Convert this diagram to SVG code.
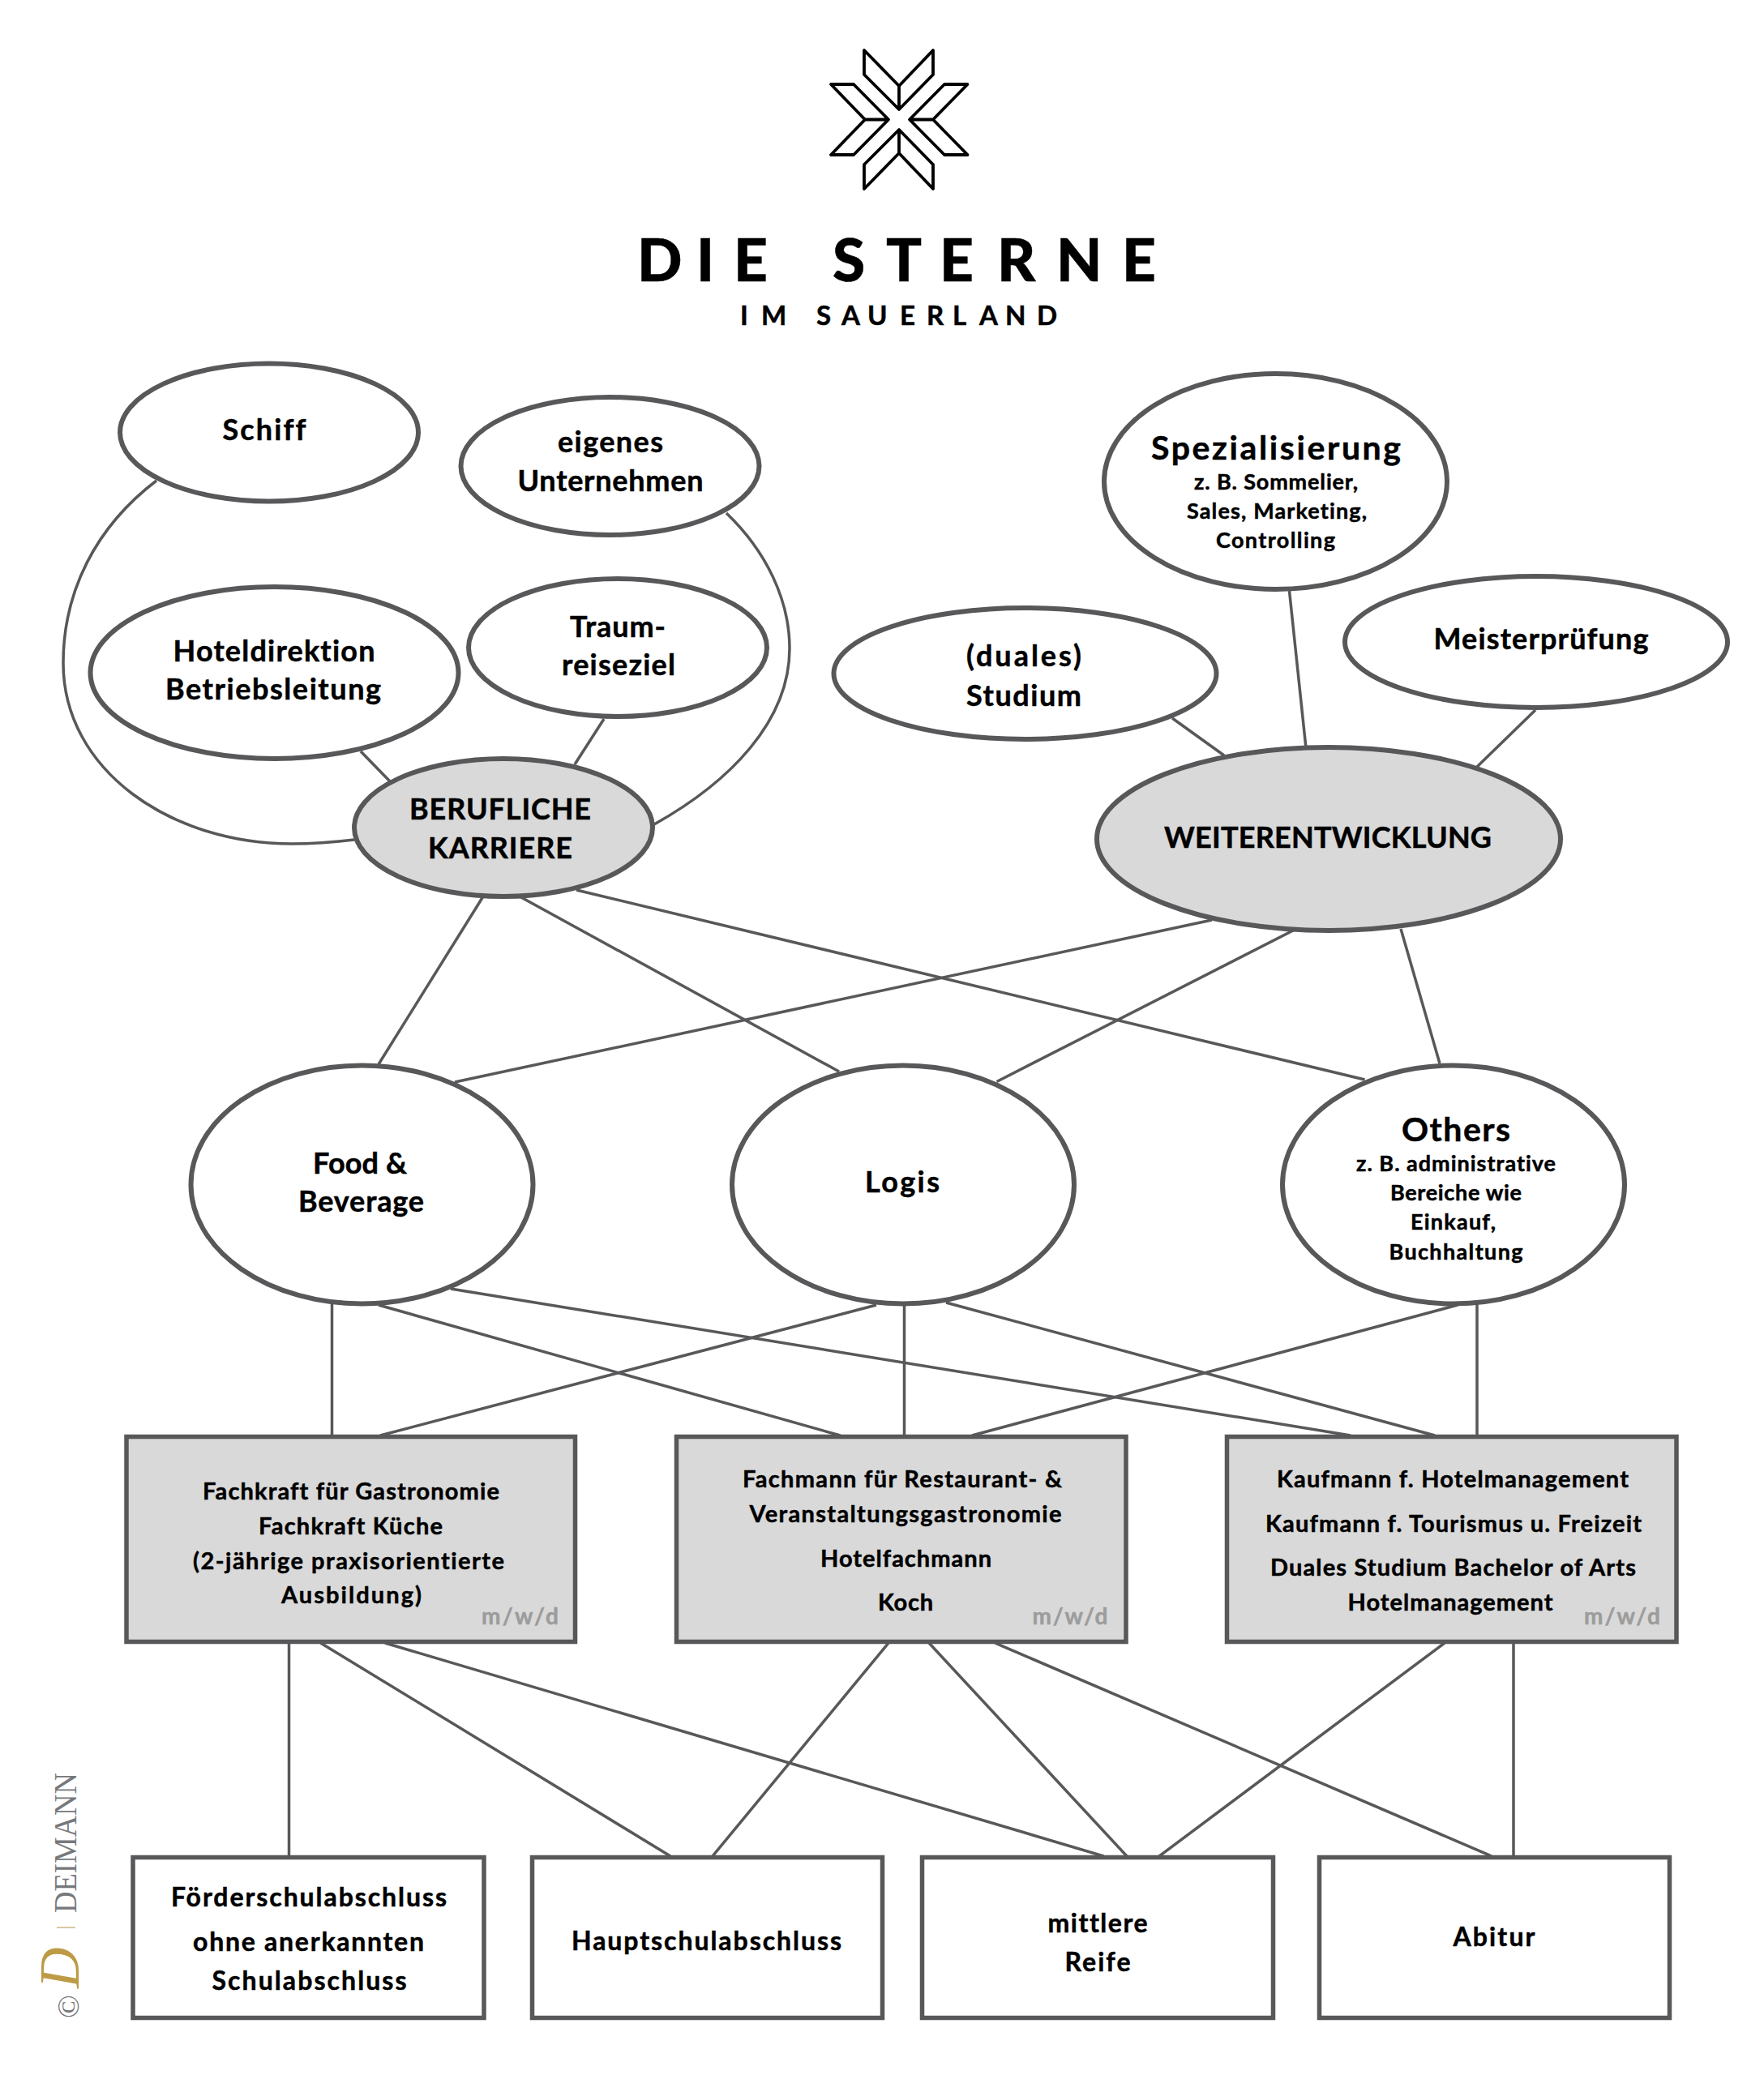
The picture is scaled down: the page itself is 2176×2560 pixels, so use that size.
<svg xmlns="http://www.w3.org/2000/svg" width="2176" height="2560" viewBox="0 0 2176 2560">
<style>
text{font-family:"Lato","Liberation Sans",sans-serif;font-weight:700;fill:#000;stroke:#000;stroke-width:.5;text-anchor:middle;font-variant-ligatures:none}
.n{font-size:36px}.big{font-size:41px}.sub{font-size:27px}.g{font-size:29px}.b{font-size:32px}
text.mwd{font-size:28px;fill:#9c9c9c;stroke:#9c9c9c}
.e{fill:#fff;stroke:#58585a;stroke-width:6}
.eg{fill:#d9d9d9;stroke:#58585a;stroke-width:6}
.r{fill:#fff;stroke:#58585a;stroke-width:5.5}
.rg{fill:#d9d9d9;stroke:#58585a;stroke-width:5.5}
#connectors path,#connectors line{fill:none;stroke:#58585a;stroke-width:3.5}
#logo path{fill:none;stroke:#000;stroke-width:3.8;stroke-linejoin:round}
.t1{font-size:73px;font-weight:900;text-anchor:start}
.t2{font-size:33px;text-anchor:start}
text.sig{font-family:"Liberation Serif",serif;font-weight:400;fill:#77787b;stroke:none;text-anchor:start}
</style>
<rect width="2176" height="2560" fill="#fff"/>
<g id="logo">
<path d="M1066,62L1109,106L1151,62V92L1109,135L1066,92ZM1109,106V135"/>
<path d="M1109,160L1066,203V233L1109,189L1151,233V203ZM1109,160V189"/>
<path d="M1025,104H1053L1096,147.500L1053,191H1025L1067,147.500ZM1067,147.500H1096"/>
<path d="M1193.500,104H1165L1122,147.500L1165,191H1193.500L1151,147.500ZM1151,147.500H1122"/>
</g>
<g id="logo-title">
<text class="t1" y="347" x="786 859 905">DIE</text>
<text class="t1" y="347" x="1027 1093 1159 1230 1303 1384">STERNE</text>
<text class="t2" y="401" x="913 939">IM</text>
<text class="t2" y="401" x="1007 1038 1070 1110 1143 1175 1208 1240 1279">SAUERLAND</text>
</g>
<g id="connectors">
<path d="M193,593C118,650 78,730 78,818C78,950 210,1041 360,1041C388,1041 412,1039 437,1036"/>
<path d="M896,633C945,680 974,740 974,800C974,890 900,965 807,1017"/>
<line x1="445" y1="927" x2="481" y2="964"/>
<line x1="745" y1="887" x2="709" y2="943"/>
<line x1="1446" y1="886" x2="1510" y2="932"/>
<line x1="1590.500" y1="729" x2="1611" y2="923"/>
<line x1="1894" y1="876" x2="1822" y2="946"/>
<line x1="596" y1="1106" x2="467" y2="1313"/>
<line x1="641" y1="1106" x2="1035" y2="1322"/>
<line x1="711" y1="1098" x2="1683.500" y2="1332"/>
<line x1="1495" y1="1135" x2="561" y2="1335"/>
<line x1="1597" y1="1147" x2="1229.500" y2="1334.500"/>
<line x1="1728" y1="1146" x2="1776" y2="1312"/>
<line x1="409.500" y1="1608" x2="409.500" y2="1771"/>
<line x1="467" y1="1610" x2="1036.500" y2="1771"/>
<line x1="556" y1="1590" x2="1666" y2="1771"/>
<line x1="1081" y1="1610" x2="469" y2="1771"/>
<line x1="1115.500" y1="1608" x2="1115.500" y2="1771"/>
<line x1="1167" y1="1607" x2="1770" y2="1771"/>
<line x1="1798" y1="1610" x2="1199" y2="1771"/>
<line x1="1822" y1="1608" x2="1822" y2="1771"/>
<line x1="356.500" y1="2027" x2="356.500" y2="2290"/>
<line x1="395.500" y1="2027" x2="827" y2="2290"/>
<line x1="475" y1="2027" x2="1361.500" y2="2290"/>
<line x1="1096" y1="2027" x2="879" y2="2290"/>
<line x1="1146" y1="2027" x2="1390" y2="2290"/>
<line x1="1227.500" y1="2027" x2="1840" y2="2290"/>
<line x1="1782" y1="2027" x2="1430" y2="2290"/>
<line x1="1867" y1="2027" x2="1867" y2="2290"/>
</g>
<g id="schiff"><ellipse class="e" cx="332" cy="533.500" rx="184" ry="85"/><text class="n" x="326" y="543" textLength="103">Schiff</text></g>
<g id="eigenes"><ellipse class="e" cx="752.500" cy="575" rx="184" ry="85"/><text class="n" x="753" y="558" textLength="130">eigenes</text><text class="n" x="753" y="606" textLength="229">Unternehmen</text></g>
<g id="hoteldirektion"><ellipse class="e" cx="338.500" cy="830" rx="227" ry="106"/><text class="n" x="338" y="816" textLength="249">Hoteldirektion</text><text class="n" x="337" y="863" textLength="266">Betriebsleitung</text></g>
<g id="traum"><ellipse class="e" cx="762" cy="799" rx="184" ry="85"/><text class="n" x="762" y="786" textLength="118">Traum-</text><text class="n" x="763" y="833" textLength="140">reiseziel</text></g>
<g id="berufliche"><ellipse class="eg" cx="621" cy="1021" rx="184" ry="85"/><text class="n" x="617" y="1011" textLength="224">BERUFLICHE</text><text class="n" x="617" y="1059" textLength="178">KARRIERE</text></g>
<g id="spezialisierung"><ellipse class="e" cx="1573.500" cy="594" rx="211.500" ry="133"/><text class="big" x="1574" y="567" textLength="308">Spezialisierung</text><text class="sub" x="1574" y="604" textLength="202">z. B. Sommelier,</text><text class="sub" x="1575" y="640" textLength="222">Sales, Marketing,</text><text class="sub" x="1573.500" y="676" textLength="147">Controlling</text></g>
<g id="duales"><ellipse class="e" cx="1264.500" cy="831" rx="236" ry="81"/><text class="n" x="1263" y="822" textLength="142">(duales)</text><text class="n" x="1263" y="871" textLength="142">Studium</text></g>
<g id="meisterpruefung"><ellipse class="e" cx="1895" cy="792" rx="236" ry="81"/><text class="n" x="1901" y="801" textLength="265">Meisterprüfung</text></g>
<g id="weiterentwicklung"><ellipse class="eg" cx="1639" cy="1035" rx="286" ry="113"/><text class="n" x="1638" y="1046" textLength="404">WEITERENTWICKLUNG</text></g>
<g id="food"><ellipse class="e" cx="446.500" cy="1461.500" rx="211" ry="147"/><text class="n" x="444" y="1448" textLength="116">Food &amp;</text><text class="n" x="445.500" y="1495" textLength="155">Beverage</text></g>
<g id="logis"><ellipse class="e" cx="1114" cy="1461.500" rx="211" ry="147"/><text class="n" x="1113" y="1471" textLength="92">Logis</text></g>
<g id="others"><ellipse class="e" cx="1793" cy="1461.500" rx="211" ry="147"/><text class="big" x="1796" y="1408" textLength="134">Others</text><text class="sub" x="1796" y="1445" textLength="246">z. B. administrative</text><text class="sub" x="1796" y="1481" textLength="162">Bereiche wie</text><text class="sub" x="1792.500" y="1517" textLength="105">Einkauf,</text><text class="sub" x="1796" y="1554" textLength="165">Buchhaltung</text></g>
<g id="ausbildung-1"><rect class="rg" x="156" y="1772.500" width="553.500" height="253"/><text class="g" x="433" y="1850" textLength="366">Fachkraft für Gastronomie</text><text class="g" x="432.500" y="1892.500" textLength="227">Fachkraft Küche</text><text class="g" x="430" y="1936" textLength="384">(2-jährige praxisorientierte</text><text class="g" x="433.500" y="1978" textLength="173">Ausbildung)</text><text class="mwd" x="641.500" y="2004" textLength="95">m/w/d</text></g>
<g id="ausbildung-2"><rect class="rg" x="834.500" y="1772.500" width="554.500" height="253"/><text class="g" x="1113" y="1835" textLength="394">Fachmann für Restaurant- &amp;</text><text class="g" x="1117" y="1877.500" textLength="385">Veranstaltungsgastronomie</text><text class="g" x="1117.500" y="1932.500" textLength="211">Hotelfachmann</text><text class="g" x="1117" y="1987" textLength="68">Koch</text><text class="mwd" x="1320" y="2004" textLength="93">m/w/d</text></g>
<g id="ausbildung-3"><rect class="rg" x="1513.500" y="1772.500" width="554.500" height="253"/><text class="g" x="1792" y="1835" textLength="434">Kaufmann f. Hotelmanagement</text><text class="g" x="1793" y="1890" textLength="464">Kaufmann f. Tourismus u. Freizeit</text><text class="g" x="1792.500" y="1944" textLength="451">Duales Studium Bachelor of Arts</text><text class="g" x="1789" y="1987" textLength="253">Hotelmanagement</text><text class="mwd" x="2001" y="2004" textLength="94">m/w/d</text></g>
<g id="foerderschule"><rect class="r" x="164" y="2291.500" width="433" height="198"/><text class="b" x="381" y="2351.500" textLength="340">Förderschulabschluss</text><text class="b" x="380.500" y="2406.500" textLength="285">ohne anerkannten</text><text class="b" x="381.500" y="2455" textLength="240">Schulabschluss</text></g>
<g id="hauptschule"><rect class="r" x="656.500" y="2291.500" width="432" height="198"/><text class="b" x="871.500" y="2406" textLength="333">Hauptschulabschluss</text></g>
<g id="mittlere-reife"><rect class="r" x="1137.500" y="2291.500" width="433" height="198"/><text class="b" x="1354" y="2384" textLength="123">mittlere</text><text class="b" x="1354" y="2432" textLength="81">Reife</text></g>
<g id="abitur"><rect class="r" x="1627.500" y="2291.500" width="432" height="198"/><text class="b" x="1843" y="2401" textLength="101">Abitur</text></g>
<g id="signature">
<text class="sig" transform="translate(94,2360) rotate(-90)" font-size="41" textLength="173" lengthAdjust="spacingAndGlyphs">DEIMANN</text>
<line x1="70" y1="2378" x2="93" y2="2378" stroke="#d8c9a0" stroke-width="2"/>
<text class="sig" transform="translate(97,2453) rotate(-90)" font-size="70" font-style="italic" style="fill:#bd9a45">D</text>
<text class="sig" transform="translate(97,2490) rotate(-90)" font-size="38">©</text>
</g>
</svg>
